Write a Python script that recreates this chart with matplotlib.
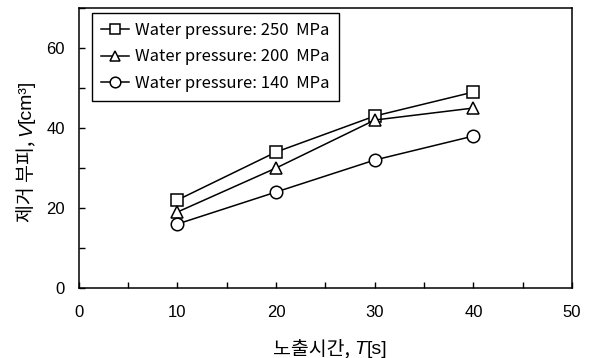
import matplotlib.pyplot as plt
from matplotlib.ticker import MultipleLocator

plt.rcParams['font.family'] = ['Liberation Sans', 'Noto Sans CJK KR', 'DejaVu Sans']

time_s = [10, 20, 30, 40]
vol_250 = [22, 34, 43, 49]
vol_200 = [19, 30, 42, 45]
vol_140 = [16, 24, 32, 38]

series = [
    ("Water pressure: 250  MPa", vol_250, "s"),
    ("Water pressure: 200  MPa", vol_200, "^"),
    ("Water pressure: 140  MPa", vol_140, "o"),
]

KR = ["Noto Sans CJK KR", "DejaVu Sans"]
LAT = ["Liberation Sans", "DejaVu Sans"]
xlabel_parts = [("노출시간, ", KR, "normal"), ("T", LAT, "italic"), ("[s]", LAT, "normal")]
ylabel_parts = [("제거 부피, ", KR, "normal"), ("V", LAT, "italic"), ("[cm³]", LAT, "normal")]

W, H = 606, 358
fig = plt.figure(figsize=(W / 100, H / 100), dpi=100)
ax = fig.add_axes([0.130, 0.1955, 0.814, 0.782])

for label, vals, mk in series:
    ax.plot(time_s, vals, color="black", lw=1.1, marker=mk, ms=9,
            mfc="white", mec="black", mew=1.1, label=label)

ax.set_xlim(0, 50)
ax.set_ylim(0, 70)
ax.xaxis.set_major_locator(MultipleLocator(10))
ax.xaxis.set_minor_locator(MultipleLocator(5))
ax.yaxis.set_minor_locator(MultipleLocator(10))
ax.set_yticks([0, 20, 40, 60])
ax.tick_params(which="both", direction="in", length=4, width=1, labelsize=12)
ax.tick_params(axis="x", pad=12)
ax.tick_params(axis="y", pad=10)
for sp in ax.spines.values():
    sp.set_linewidth(1.1)

leg = ax.legend(loc="upper left", bbox_to_anchor=(0.026, 0.982), borderaxespad=0,
                fancybox=False, edgecolor="black", framealpha=1, handlelength=1.7,
                markerscale=0.85, prop={"family": ["Noto Sans CJK KR"], "size": 12},
                borderpad=0.55, labelspacing=0.55, handletextpad=0.35)
leg.get_frame().set_linewidth(1.0)


def mixed_label(parts, cx, cy, rotation, size=14):
    # lay out pieces with different fonts one after another, centred on (cx, cy) px from top-left
    texts = [fig.text(0, 0, s, family=fam, style=st, fontsize=size, rotation=rotation,
                      rotation_mode="anchor", ha="left", va="baseline")
             for s, fam, st in parts]
    r = fig.canvas.get_renderer()
    sizes = []
    for t in texts:
        bb = t.get_window_extent(r)
        sizes.append(bb.width if rotation == 0 else bb.height)
    pos = -sum(sizes) / 2
    for t, L in zip(texts, sizes):
        if rotation == 0:
            t.set_position(((cx + pos) / W, (H - cy) / H))
        else:
            t.set_position((cx / W, (H - cy + pos) / H))
        pos += L


mixed_label(xlabel_parts, 330, 354, 0)
mixed_label(ylabel_parts, 31, 151, 90)

fig.savefig("out.png", dpi=100)
